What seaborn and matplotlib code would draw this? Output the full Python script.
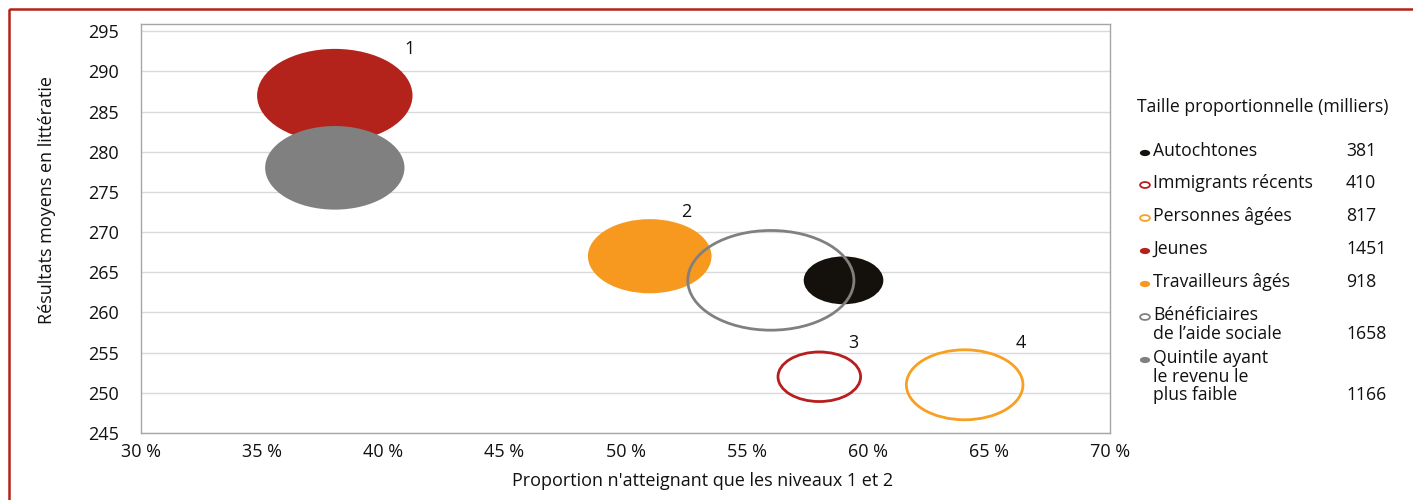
import numpy as np
import pandas as pd
import matplotlib
matplotlib.use("Agg")
import matplotlib.pyplot as plt
from matplotlib.path import Path
from matplotlib.patches import Rectangle
import seaborn as sns

# Population groups, listed back-to-front in drawing order
groups = ["Jeunes", "Quintile ayant le revenu le plus faible", "Travailleurs âgés",
          "Autochtones", "Bénéficiaires de l’aide sociale", "Immigrants récents",
          "Personnes âgées"]
proportion = [38, 38, 51, 59, 56, 58, 64]          # % at levels 1 and 2 only
literacy = [287, 278, 267, 264, 264, 252, 251]      # mean literacy score
size_thousands = [1451, 1166, 918, 381, 1658, 410, 817]
colors = ["#B3231B", "#808080", "#F7991F", "#14110C", "#808080", "#B81E1E", "#F7A021"]
filled = [True, True, True, True, False, False, False]

# Numbered group callouts
callout_text = ["1", "2", "3", "4"]
callout_x = [41.1, 52.5, 59.4, 66.3]
callout_y = [292.8, 272.5, 256.2, 256.2]

# Legend content (display order)
legend_labels = ["Autochtones", "Immigrants récents", "Personnes âgées", "Jeunes",
                 "Travailleurs âgés", "Bénéficiaires\nde l’aide sociale",
                 "Quintile ayant\nle revenu le\nplus faible"]
legend_groups = ["Autochtones", "Immigrants récents", "Personnes âgées", "Jeunes",
                 "Travailleurs âgés", "Bénéficiaires de l’aide sociale",
                 "Quintile ayant le revenu le plus faible"]
legend_title = "Taille proportionnelle (milliers)"

x_ticks = [30, 35, 40, 45, 50, 55, 60, 65, 70]
y_ticks = [245, 250, 255, 260, 265, 270, 275, 280, 285, 290, 295]

df = pd.DataFrame({"group": groups, "x": proportion, "y": literacy,
                   "size": size_thousands, "color": colors, "filled": filled})
palette = dict(zip(groups, colors))

sns.set_theme(style="white")
plt.rcParams["font.family"] = ["Open Sans", "DejaVu Sans"]
TXT = "#111111"
GRID = "#D9D9D9"
SPINE = "#A6A6A6"
FS = 13
FS_LEG = 12.7

W, H, DPI = 1413, 500, 100
fig = plt.figure(figsize=(W / DPI, H / DPI), dpi=DPI)
ax = fig.add_axes([141 / W, 1 - 433 / H, (1110 - 141) / W, (433 - 24) / H])

# Flattened bubble marker (width : height = 1 : 0.6)
circ = Path.unit_circle()
ellipse = Path(circ.vertices * np.array([1.0, 0.6]), circ.codes)

# Bubble width proportional to sqrt(size): marker area in pt^2 = k * size
k = (4.08 * 72 / DPI) ** 2
smin, smax = min(size_thousands), max(size_thousands)
size_kw = dict(size="size", sizes=(k * smin, k * smax), size_norm=(smin, smax))

solid = df[df["filled"]]
sns.scatterplot(data=solid, x="x", y="y", hue="group", palette=palette,
                marker=ellipse, edgecolor="none", linewidth=0, legend=False,
                zorder=3, ax=ax, **size_kw)

hollow = df[~df["filled"]]
sns.scatterplot(data=hollow, x="x", y="y", hue="group", palette=palette,
                marker=ellipse, linewidth=2.0, legend=False, zorder=4, ax=ax,
                **size_kw)
ring = ax.collections[-1]
ring.set_edgecolors(list(hollow["color"]))
ring.set_facecolors("none")

for t, cx, cy in zip(callout_text, callout_x, callout_y):
    ax.text(cx, cy, t, fontsize=FS, color=TXT, ha="center", va="center", zorder=5)

ax.set_xlim(30, 70)
ax.set_ylim(245, 295.9)
ax.set_xticks(x_ticks)
ax.set_xticklabels([f"{v} %" for v in x_ticks])
ax.set_yticks(y_ticks)
ax.yaxis.grid(True, color=GRID, linewidth=1.0, zorder=0)
ax.xaxis.grid(False)
ax.set_axisbelow(True)
for s in ax.spines.values():
    s.set_color(SPINE)
    s.set_linewidth(1.0)
ax.tick_params(axis="x", direction="out", length=4, width=1, color=SPINE,
               labelsize=FS, labelcolor=TXT, pad=3)
ax.tick_params(axis="y", direction="out", length=4, width=1, color=SPINE,
               labelsize=FS, labelcolor=TXT, pad=12)
ax.set_xlabel("Proportion n'atteignant que les niveaux 1 et 2", fontsize=FS, color=TXT)
ax.set_ylabel("Résultats moyens en littératie", fontsize=FS, color=TXT)
ax.xaxis.set_label_coords(0.58, -0.095)
ax.yaxis.set_label_coords(-0.088, 0.57)

# Overlay in pixel units for the legend block and the page frame
ov = fig.add_axes([0, 0, 1, 1], zorder=10)
ov.set_xlim(0, W)
ov.set_ylim(H, 0)
ov.axis("off")
ov.patch.set_alpha(0)

ov.text(1137, 107, legend_title, fontsize=FS_LEG, color=TXT, ha="left", va="center")
row_y = [151, 183, 216, 249, 282, 315, 358]
line_step = 18.7
for lab, grp, ry in zip(legend_labels, legend_groups, row_y):
    row = df[df["group"] == grp].iloc[0]
    if row["filled"]:
        ov.scatter([1145], [ry + 2], s=55, marker=ellipse, color=row["color"],
                   edgecolor="none", linewidth=0)
    else:
        ov.scatter([1145], [ry + 2], s=50, marker=ellipse, facecolor="none",
                   edgecolor=row["color"], linewidth=1.3)
    lines = lab.split("\n")
    for i, ln in enumerate(lines):
        ov.text(1153, ry + i * line_step, ln, fontsize=FS_LEG, color=TXT,
                ha="left", va="center")
    ov.text(1346, ry + (len(lines) - 1) * line_step, str(row["size"]),
            fontsize=FS_LEG, color=TXT, ha="left", va="center")

# Page frame (open on the right and bottom edges)
ov.add_patch(Rectangle((8.5, 8.5), W + 20, H + 20, fill=False,
                       edgecolor="#B5221B", linewidth=1.8, clip_on=False))

fig.savefig("out.png", dpi=DPI)
